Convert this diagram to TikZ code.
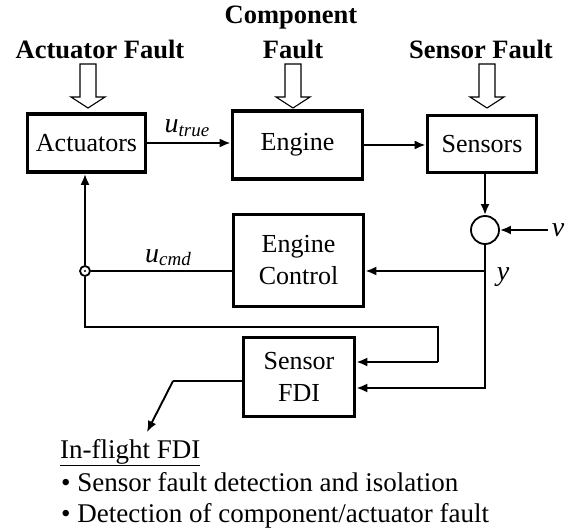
\documentclass[tikz,border=0pt]{standalone}
\usepackage{fontspec}
\setmainfont{Liberation Serif}
\usetikzlibrary{arrows.meta}
\tikzset{
  blk/.style={draw, line width=3.6pt, rectangle, align=center, inner sep=0pt,
    font=\fontsize{26}{30}\selectfont},
  conn/.style={line width=2.7pt},
  thin/.style={line width=1.9pt},
  arr/.style={-{Latex[length=11pt,width=9pt]}},
  flbl/.style={font=\fontsize{26.5}{30}\selectfont\bfseries, inner sep=0pt},
  vlbl/.style={font=\fontsize{28}{30}\selectfont\itshape, inner sep=0pt},
  txt/.style={font=\fontsize{27}{31}\selectfont, inner sep=0pt, anchor=base west},
  bigarrow/.style={draw, line width=1.1pt, fill=white}
}
\newcommand{\mysub}[1]{\raisebox{-0.3ex}{\fontsize{19}{19}\selectfont\itshape #1}}
\begin{document}
\begin{tikzpicture}[x=1pt,y=-1pt]
\useasboundingbox (0,0) rectangle (570,529);

% blocks
\node[blk, minimum width=118pt, minimum height=58pt] (act) at (86.5,143) {Actuators};
\node[blk, minimum width=130pt, minimum height=68pt] (eng) at (297.5,145) {Engine};
\node[blk, minimum width=109pt, minimum height=57pt] (sen) at (482,144) {Sensors};
\node[blk, minimum width=130pt, minimum height=92pt] (ctrl) at (298.5,260.5) {Engine\\[2pt]Control};
\node[blk, minimum width=111pt, minimum height=79pt] (fdi) at (299,377) {Sensor\\[2pt]FDI};
\node[draw, circle, line width=1.8pt, minimum size=28pt, inner sep=0pt] (sum) at (485,230) {};
\node[draw, circle, line width=1.8pt, fill=white, minimum size=10pt, inner sep=0pt] (jn) at (85,271) {};
\fill (jn.center) circle (1.2pt);

% fault labels
\node[flbl] (fa) at (100,49) {Actuator Fault};
\node[flbl] (fc1) at (291,18) {Component};
\node[flbl] (fc2) at (293,49) {Fault};
\node[flbl] (fs) at (481,49) {Sensor Fault};

% hollow block arrows
\foreach \c in {88,293,487}{
  \draw[bigarrow] (\c-8,64) -- (\c+8,64) -- (\c+8,97) -- (\c+17,97) -- (\c,108)
     -- (\c-17,97) -- (\c-8,97) -- cycle;
}

% coordinates
\coordinate (vin) at (548,230);
\coordinate (ysplit) at (485,271);
\coordinate (ylow) at (485,388);
\coordinate (ucd) at (85,327);
\coordinate (ucr) at (438,327);
\coordinate (ucr2) at (438,362);
\coordinate (obend) at (173,381);
\coordinate (otip) at (147,432);

% connectors
\draw[conn, arr] (act.east |- 0,143) -- (eng.west |- 0,143);
\draw[conn, arr] (eng.east) -- (sen.west |- eng.east);
\draw[conn, arr] (sum |- sen.south) -- (sum.north);
\draw[conn, arr] (vin) -- (sum.east);
\draw[conn] (sum.south) -- (ysplit);
\draw[conn, arr] (ysplit) -- (ctrl.east |- ysplit);
\draw[conn, arr] (ysplit) -- (ylow) -- (fdi.east |- ylow);
\draw[thin] (ctrl.west |- jn) -- (jn.east);
\draw[conn, arr] (jn.north) -- (jn |- act.south);
\draw[thin] (jn.south) -- (ucd) -- (ucr) -- (ucr2);
\draw[conn, arr] (ucr2) -- (fdi.east |- ucr2);
\draw[thin] (fdi.west |- obend) -- (obend);
\draw[thin, arr] (obend) -- (otip);

% signal labels
\node[vlbl, anchor=base] (utrue) at (187,133) {u\mysub{true}};
\node[vlbl, anchor=base] (ucmd) at (168,262) {u\mysub{cmd}};
\node[vlbl] (ylbl) at (503,277) {y};
\node[vlbl] (vlbl) at (558,230) {v};

% bottom text
\node[txt] (t0) at (60,458) {\underline{In-flight FDI}};
\node[txt] (t1) at (61,491) {• Sensor fault detection and isolation};
\node[txt] (t2) at (61,522) {• Detection of component/actuator fault};
\end{tikzpicture}
\end{document}
